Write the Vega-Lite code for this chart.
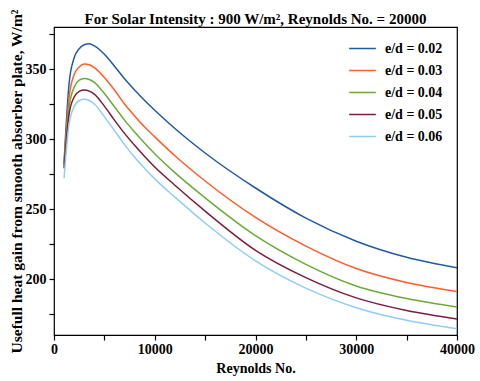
{
  "$schema": "https://vega.github.io/schema/vega-lite/v6.json",
  "autosize": "none",
  "padding": {"left": 54, "top": 27, "right": 23, "bottom": 46},
  "width": 403,
  "height": 308,
  "background": "white",
  "config": {
    "font": "Liberation Serif",
    "view": {"stroke": "black", "strokeWidth": 1.2},
    "axis": {"grid": false, "labelColor": "black", "titleColor": "black", "labelFont": "Liberation Serif", "titleFont": "Liberation Serif", "labelFontWeight": "bold", "titleFontWeight": "bold", "labelFontSize": 14, "titleFontSize": 14, "labelOverlap": false, "labelFlush": false}
  },
  "title": {"text": "For Solar Intensity : 900 W/m², Reynolds No. = 20000", "font": "Liberation Serif", "fontSize": 15, "fontWeight": "bold", "color": "black", "anchor": "middle", "offset": -18},
  "datasets": {
    "curves": [
      {"Re": 1000, "ed": "e/d = 0.02", "Q": 283}, {"Re": 1500, "ed": "e/d = 0.02", "Q": 340}, {"Re": 2000, "ed": "e/d = 0.02", "Q": 358}, {"Re": 2500, "ed": "e/d = 0.02", "Q": 364.5}, {"Re": 3000, "ed": "e/d = 0.02", "Q": 367.3}, {"Re": 3500, "ed": "e/d = 0.02", "Q": 368}, {"Re": 4000, "ed": "e/d = 0.02", "Q": 366.5}, {"Re": 5000, "ed": "e/d = 0.02", "Q": 360.5}, {"Re": 6000, "ed": "e/d = 0.02", "Q": 352}, {"Re": 7000, "ed": "e/d = 0.02", "Q": 343}, {"Re": 8000, "ed": "e/d = 0.02", "Q": 335}, {"Re": 9000, "ed": "e/d = 0.02", "Q": 327.5}, {"Re": 10000, "ed": "e/d = 0.02", "Q": 320.5}, {"Re": 12000, "ed": "e/d = 0.02", "Q": 307.5}, {"Re": 15000, "ed": "e/d = 0.02", "Q": 290}, {"Re": 20000, "ed": "e/d = 0.02", "Q": 265}, {"Re": 25000, "ed": "e/d = 0.02", "Q": 243.5}, {"Re": 30000, "ed": "e/d = 0.02", "Q": 227}, {"Re": 35000, "ed": "e/d = 0.02", "Q": 215.5}, {"Re": 40000, "ed": "e/d = 0.02", "Q": 208},
      {"Re": 1000, "ed": "e/d = 0.03", "Q": 282}, {"Re": 1500, "ed": "e/d = 0.03", "Q": 330}, {"Re": 2000, "ed": "e/d = 0.03", "Q": 346}, {"Re": 2500, "ed": "e/d = 0.03", "Q": 351.5}, {"Re": 3000, "ed": "e/d = 0.03", "Q": 353.5}, {"Re": 3500, "ed": "e/d = 0.03", "Q": 353}, {"Re": 4000, "ed": "e/d = 0.03", "Q": 351}, {"Re": 5000, "ed": "e/d = 0.03", "Q": 344}, {"Re": 6000, "ed": "e/d = 0.03", "Q": 335}, {"Re": 7000, "ed": "e/d = 0.03", "Q": 325}, {"Re": 8000, "ed": "e/d = 0.03", "Q": 316.5}, {"Re": 9000, "ed": "e/d = 0.03", "Q": 308.5}, {"Re": 10000, "ed": "e/d = 0.03", "Q": 301.5}, {"Re": 12000, "ed": "e/d = 0.03", "Q": 288}, {"Re": 15000, "ed": "e/d = 0.03", "Q": 270}, {"Re": 20000, "ed": "e/d = 0.03", "Q": 244}, {"Re": 25000, "ed": "e/d = 0.03", "Q": 223.5}, {"Re": 30000, "ed": "e/d = 0.03", "Q": 207.5}, {"Re": 35000, "ed": "e/d = 0.03", "Q": 197.5}, {"Re": 40000, "ed": "e/d = 0.03", "Q": 191},
      {"Re": 1000, "ed": "e/d = 0.04", "Q": 281}, {"Re": 1500, "ed": "e/d = 0.04", "Q": 323}, {"Re": 2000, "ed": "e/d = 0.04", "Q": 337}, {"Re": 2500, "ed": "e/d = 0.04", "Q": 342}, {"Re": 3000, "ed": "e/d = 0.04", "Q": 343.2}, {"Re": 3500, "ed": "e/d = 0.04", "Q": 342.5}, {"Re": 4000, "ed": "e/d = 0.04", "Q": 340.5}, {"Re": 5000, "ed": "e/d = 0.04", "Q": 332.5}, {"Re": 6000, "ed": "e/d = 0.04", "Q": 323}, {"Re": 7000, "ed": "e/d = 0.04", "Q": 313.5}, {"Re": 8000, "ed": "e/d = 0.04", "Q": 305}, {"Re": 9000, "ed": "e/d = 0.04", "Q": 297}, {"Re": 10000, "ed": "e/d = 0.04", "Q": 289.5}, {"Re": 12000, "ed": "e/d = 0.04", "Q": 276}, {"Re": 15000, "ed": "e/d = 0.04", "Q": 258}, {"Re": 20000, "ed": "e/d = 0.04", "Q": 231}, {"Re": 25000, "ed": "e/d = 0.04", "Q": 210.5}, {"Re": 30000, "ed": "e/d = 0.04", "Q": 195}, {"Re": 35000, "ed": "e/d = 0.04", "Q": 186}, {"Re": 40000, "ed": "e/d = 0.04", "Q": 180},
      {"Re": 1000, "ed": "e/d = 0.05", "Q": 279}, {"Re": 1500, "ed": "e/d = 0.05", "Q": 318}, {"Re": 2000, "ed": "e/d = 0.05", "Q": 330}, {"Re": 2500, "ed": "e/d = 0.05", "Q": 334}, {"Re": 3000, "ed": "e/d = 0.05", "Q": 335}, {"Re": 3500, "ed": "e/d = 0.05", "Q": 334.2}, {"Re": 4000, "ed": "e/d = 0.05", "Q": 332}, {"Re": 5000, "ed": "e/d = 0.05", "Q": 323.5}, {"Re": 6000, "ed": "e/d = 0.05", "Q": 313.5}, {"Re": 7000, "ed": "e/d = 0.05", "Q": 304}, {"Re": 8000, "ed": "e/d = 0.05", "Q": 295.5}, {"Re": 9000, "ed": "e/d = 0.05", "Q": 287.5}, {"Re": 10000, "ed": "e/d = 0.05", "Q": 280}, {"Re": 12000, "ed": "e/d = 0.05", "Q": 267}, {"Re": 15000, "ed": "e/d = 0.05", "Q": 248.5}, {"Re": 20000, "ed": "e/d = 0.05", "Q": 220.5}, {"Re": 25000, "ed": "e/d = 0.05", "Q": 201}, {"Re": 30000, "ed": "e/d = 0.05", "Q": 186.5}, {"Re": 35000, "ed": "e/d = 0.05", "Q": 177.5}, {"Re": 40000, "ed": "e/d = 0.05", "Q": 171.5},
      {"Re": 1000, "ed": "e/d = 0.06", "Q": 272}, {"Re": 1500, "ed": "e/d = 0.06", "Q": 311}, {"Re": 2000, "ed": "e/d = 0.06", "Q": 323}, {"Re": 2500, "ed": "e/d = 0.06", "Q": 327.5}, {"Re": 3000, "ed": "e/d = 0.06", "Q": 328.4}, {"Re": 3500, "ed": "e/d = 0.06", "Q": 327.5}, {"Re": 4000, "ed": "e/d = 0.06", "Q": 325}, {"Re": 5000, "ed": "e/d = 0.06", "Q": 316}, {"Re": 6000, "ed": "e/d = 0.06", "Q": 306}, {"Re": 7000, "ed": "e/d = 0.06", "Q": 296}, {"Re": 8000, "ed": "e/d = 0.06", "Q": 287}, {"Re": 9000, "ed": "e/d = 0.06", "Q": 279}, {"Re": 10000, "ed": "e/d = 0.06", "Q": 271.5}, {"Re": 12000, "ed": "e/d = 0.06", "Q": 258.5}, {"Re": 15000, "ed": "e/d = 0.06", "Q": 240}, {"Re": 20000, "ed": "e/d = 0.06", "Q": 213}, {"Re": 25000, "ed": "e/d = 0.06", "Q": 193.5}, {"Re": 30000, "ed": "e/d = 0.06", "Q": 179.5}, {"Re": 35000, "ed": "e/d = 0.06", "Q": 170.5}, {"Re": 40000, "ed": "e/d = 0.06", "Q": 164.5}
    ]
  },
  "data": {"name": "curves"},
  "mark": {"type": "line", "interpolate": "monotone", "strokeWidth": 1.5, "clip": true},
  "encoding": {
    "x": {"field": "Re", "type": "quantitative", "scale": {"domain": [0, 40000], "nice": false}, "axis": {"title": "Reynolds No.", "values": [0, 5000, 10000, 15000, 20000, 25000, 30000, 35000, 40000], "labelExpr": "datum.value % 10000 == 0 ? datum.label : ''", "domain": false, "ticks": true, "tickColor": "#000000", "tickWidth": 1.2, "tickSize": 5, "labelPadding": 2, "titlePadding": 5, "format": "d"}},
    "y": {"field": "Q", "type": "quantitative", "scale": {"domain": [160, 380], "nice": false, "zero": false}, "axis": {"title": "Usefull heat gain from smooth absorber plate, W/m²", "titleFontSize": 15.5, "values": [175, 200, 225, 250, 275, 300, 325, 350, 375], "labelExpr": "datum.value % 50 == 0 ? datum.label : ''", "domain": false, "ticks": true, "tickColor": "#000000", "tickWidth": 1.2, "tickSize": 5, "labelPadding": 3, "titlePadding": 1}},
    "color": {"field": "ed", "type": "nominal", "scale": {"domain": ["e/d = 0.02", "e/d = 0.03", "e/d = 0.04", "e/d = 0.05", "e/d = 0.06"], "range": ["#215a9e", "#ff5c2c", "#6aab38", "#7d1c38", "#8fcdf8"]},
      "legend": {"title": null, "orient": "none", "legendX": 294, "legendY": 7, "symbolType": "stroke", "symbolSize": 711, "symbolStrokeWidth": 1.5, "labelFont": "Liberation Serif", "labelFontWeight": "bold", "labelFontSize": 14, "labelColor": "black", "rowPadding": 0, "labelOffset": 8}}
  }
}
